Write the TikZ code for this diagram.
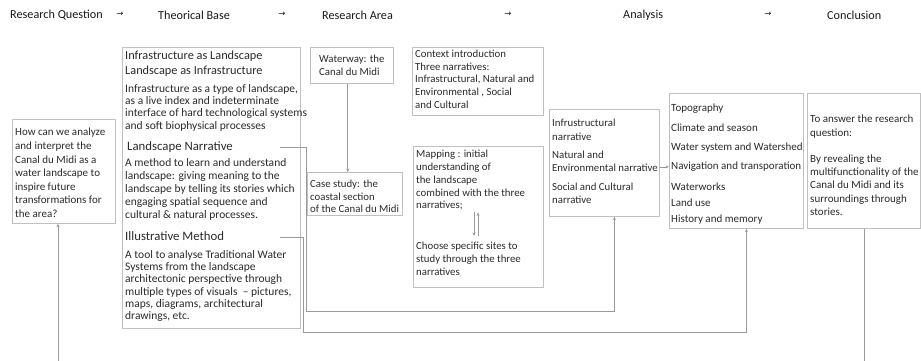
\documentclass[tikz,border=0pt]{standalone}
\usepackage{fontspec}
\setmainfont{Carlito}
\newfontfamily\arrowfont{DejaVu Sans}
\usetikzlibrary{arrows.meta}

\definecolor{txtgray}{HTML}{2A2A2A}
\definecolor{boxgray}{HTML}{C0C0C0}
\definecolor{linkgray}{HTML}{9A9A9A}

\tikzset{
  box/.style={draw=boxgray, line width=0.7pt, anchor=north west, inner sep=0pt},
  txt/.style={anchor=north west, inner sep=0pt, align=left, text=txtgray,
    font=\fontsize{10.8}{12.3}\selectfont},
  bigtxt/.style={txt, font=\fontsize{11.5}{12.3}\selectfont},
  ttl/.style={txt, font=\fontsize{12.3}{15}\selectfont},
  hdr/.style={anchor=west, inner sep=0pt, text=black!90, font=\fontsize{12.2}{14}\selectfont},
  link/.style={draw=linkgray, line width=0.8pt},
  arr/.style={link, -{Stealth[length=3.5pt, width=3pt]}},
}

\begin{document}
\begin{tikzpicture}[x=1pt, y=-1pt]
    \useasboundingbox (0,0) rectangle (921,361);

    % header row
    \foreach \x/\t [count=\i] in {10/Research Question, 158/Theorical Base,
        322/Research Area, 623/Analysis, 827/Conclusion} {
        \node[hdr] (head\i) at (\x,15) {\t};
    }
    \foreach \x [count=\i] in {120,282,508,768} {
        \node[hdr, anchor=center, font=\arrowfont\fontsize{8.5}{9}\selectfont] (harrow\i) at (\x,14) {→};
    }

    % research question
    \node[box, minimum width=103, minimum height=104] (rqbox) at (12,119) {};
    \node[txt, font=\fontsize{11}{13.6}\selectfont] (rq) at (15,128) {How can we analyze\\and interpret the\\Canal du Midi as a\\water landscape to\\inspire future\\transformations for\\the area?};

    % theorical base
    \node[box, minimum width=178, minimum height=281] (thbox) at (122,47) {};
    \node[ttl] (infra) at (125,51) {Infrastructure as Landscape\\Landscape as Infrastructure};
    \node[bigtxt] (infratxt) at (125,84) {Infrastructure as a type of landscape,\\as a live index and indeterminate\\interface of hard technological systems\\and soft biophysical processes};
    \node[ttl, font=\fontsize{12.8}{15}\selectfont] (narr) at (127,141) {Landscape Narrative};
    \node[bigtxt, font=\fontsize{11.5}{13}\selectfont] (narrtxt) at (125,158) {A method to learn and understand\\landscape: giving meaning to the\\landscape by telling its stories which\\engaging spatial sequence and\\cultural \& natural processes.};
    \node[ttl, font=\fontsize{12.8}{15}\selectfont] (illu) at (125,231) {Illustrative Method};
    \node[bigtxt] (illutxt) at (125,250) {A tool to analyse Traditional Water\\Systems from the landscape\\architectonic perspective through\\multiple types of visuals \ -- pictures,\\maps, diagrams, architectural\\drawings, etc.};

    % research area
    \node[box, minimum width=83, minimum height=36] (wbox) at (310,47) {};
    \node[txt, anchor=center] (water) at (wbox.center) {Waterway: the\\Canal du Midi};
    \node[box, minimum width=95, minimum height=43] (cbox) at (307,172) {};
    \node[txt] (case) at (310,180) {Case study: the\\coastal section\\of the Canal du Midi};
    \draw[arr] ([xshift=-4pt]wbox.south) -- ([xshift=-4pt]wbox.south |- cbox.north);

    \node[box, minimum width=131, minimum height=68] (ctbox) at (412,47) {};
    \node[txt, font=\fontsize{10.8}{12.6}\selectfont] (context) at (415,50) {Context introduction\\Three narratives:\\Infrastructural, Natural and\\Environmental , Social\\and Cultural};

    \node[box, minimum width=130, minimum height=141] (mbox) at (413,146) {};
    \node[txt, font=\fontsize{10.8}{12.8}\selectfont] (map) at (416,150) {Mapping : initial\\understanding of\\the landscape\\combined with the three\\narratives;};
    \node[txt, font=\fontsize{10.8}{12.8}\selectfont] (sites) at (416,242) {Choose specific sites to\\study through the three\\narratives};
    \coordinate (dn) at (474,0);
    \coordinate (up) at (478,0);
    \draw[arr, line width=0.6pt, shorten <=2pt, shorten >=6pt] (map.south -| dn) -- (sites.north -| dn);
    \draw[arr, line width=0.6pt, shorten <=6pt, shorten >=2pt] (sites.north -| up) -- (map.south -| up);

    % analysis
    \node[box, minimum width=110, minimum height=107] (ibox) at (549,109) {};
    \node[txt, font=\fontsize{10.8}{13.4}\selectfont] (inarr) at (552,119) {Infrustructural\\narrative\\[5pt]Natural and\\Environmental narrative\\[5pt]Social and Cultural\\narrative};

    \node[box, minimum width=134, minimum height=135] (abox) at (669,93) {};
    \node[txt, font=\fontsize{11}{12.3}\selectfont] (topics) at (671,104) {Topography\\[7pt]Climate and season\\[7pt]Water system and Watershed\\[7pt]Navigation and transporation\\[8pt]Waterworks\\[4pt]Land use\\[4pt]History and memory};
    \draw[arr, line width=0.6pt] ([yshift=-4pt]ibox.east) -- ([yshift=-4pt]ibox.east -| abox.west);

    % conclusion
    \node[box, minimum width=113, minimum height=135] (cobox) at (807,93) {};
    \node[txt, font=\fontsize{11}{13.3}\selectfont] (concl) at (810,115) {To answer the research\\question:\\[12.7pt]By revealing the\\multifunctionality of the\\Canal du Midi and its\\surroundings through\\stories.};

    % connections from the theory
    \coordinate (narrstart) at (280,147);
    \coordinate (narrturn) at (306,311);
    \draw[arr] (narrstart) -| (narrturn) -| ([xshift=10pt]ibox.south);
    \coordinate (illustart) at (280,237);
    \coordinate (illuturn) at (303,332);
    \draw[arr] (illustart) -| (illuturn) -| ([xshift=10pt]abox.south);

    % loop back to the question
    \coordinate (loopleft) at (58,362);
    \coordinate (loopright) at (864,362);
    \draw[link] (cobox.south -| loopright) -- (loopright);
    \draw[arr] (loopleft) -- (loopleft |- rqbox.south);
\end{tikzpicture}
\end{document}
